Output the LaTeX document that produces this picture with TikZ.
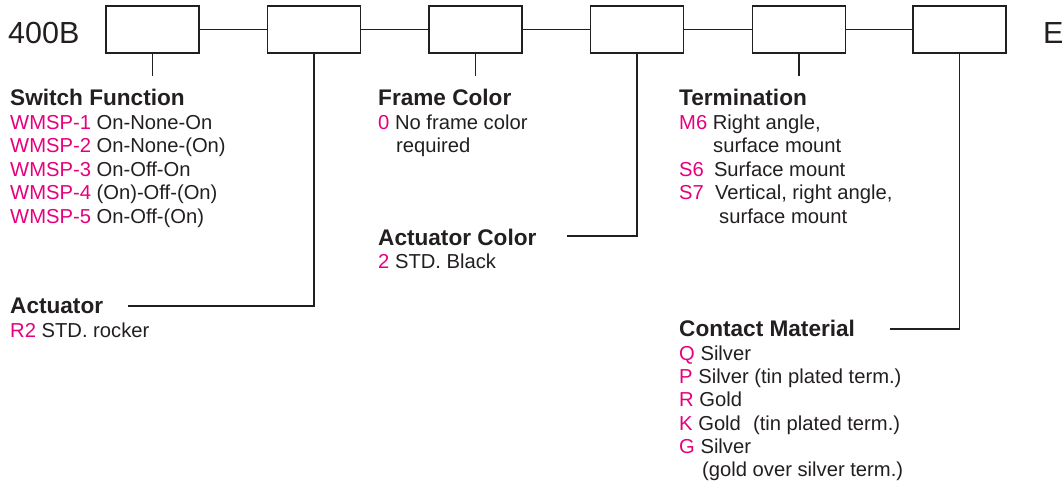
\documentclass[tikz,border=0pt]{standalone}
\usepackage{fontspec}
\setmainfont{Liberation Sans}
\definecolor{ink}{HTML}{231F20}
\definecolor{code}{HTML}{E6007E}
\begin{document}
\begin{tikzpicture}[x=1pt,y=-1pt,
  codebox/.style={draw=ink,line width=1.7pt,minimum width=93pt,minimum height=47pt,inner sep=0pt},
  wire/.style={draw=ink,line width=1.7pt},
  head/.style={anchor=base west,inner sep=0pt,text=ink,font=\fontsize{22.6}{26}\selectfont\bfseries},
  body/.style={anchor=base west,inner sep=0pt,text=ink,font=\fontsize{20.2}{24}\selectfont},
  big/.style={anchor=base west,inner sep=0pt,text=ink,font=\fontsize{30.5}{34}\selectfont}]
\useasboundingbox (0,0) rectangle (1064,486);
% boxes
\node[codebox] (b1) at (152.5,29.5) {};
\node[codebox] (b2) at (314,29.5) {};
\node[codebox] (b3) at (475.5,29.5) {};
\node[codebox] (b4) at (637,29.5) {};
\node[codebox] (b5) at (799,29.5) {};
\node[codebox] (b6) at (959.5,29.5) {};
\node[big] (pre) at (8,44) {400B};
\node[big] (suf) at (1043,44) {E};
\draw[wire] (b1.east) -- (b2.west);
\draw[wire] (b2.east) -- (b3.west);
\draw[wire] (b3.east) -- (b4.west);
\draw[wire] (b4.east) -- (b5.west);
\draw[wire] (b5.east) -- (b6.west);
% leader ends
\coordinate (s1) at (152.5,76);
\coordinate (s3) at (475.5,76);
\coordinate (s5) at (799,76);
\coordinate (c2) at (314,306);
\coordinate (e2) at (128,306);
\coordinate (c4) at (637,236);
\coordinate (e4) at (567,236);
\coordinate (c6) at (959.5,329);
\coordinate (e6) at (890,329);
\draw[wire] (b1.south) -- (s1);
\draw[wire] (b3.south) -- (s3);
\draw[wire] (b5.south) -- (s5);
\draw[wire] (b2.south) -- (c2) -- (e2);
\draw[wire] (b4.south) -- (c4) -- (e4);
\draw[wire] (b6.south) -- (c6) -- (e6);
% Switch Function
\node[head] (sfh) at (10,106) {Switch Function};
\node[body] (sf1) at (10,130) {\textcolor{code}{WMSP-1} On-None-On};
\node[body] (sf2) at (10,153) {\textcolor{code}{WMSP-2} On-None-(On)};
\node[body] (sf3) at (10,177) {\textcolor{code}{WMSP-3} On-Off-On};
\node[body] (sf4) at (10,200) {\textcolor{code}{WMSP-4} (On)-Off-(On)};
\node[body] (sf5) at (10,223) {\textcolor{code}{WMSP-5} On-Off-(On)};
% Actuator
\node[head] (ach) at (10,313) {Actuator};
\node[body] (ac1) at (10,337) {\textcolor{code}{R2} STD. rocker};
% Frame Color
\node[head] (fch) at (378,106) {Frame Color};
\node[body] (fc1) at (378,130) {\textcolor{code}{0} No frame color};
\node[body] (fc2) at (396,153) {required};
% Actuator Color
\node[head] (ach2) at (378,245) {Actuator Color};
\node[body] (acc1) at (378,268) {\textcolor{code}{2} STD. Black};
% Termination
\node[head] (tmh) at (679,106) {Termination};
\node[body] (tm1) at (679,130) {\textcolor{code}{M6} Right angle,};
\node[body] (tm2) at (713,153) {surface mount};
\node[body] (tm3) at (679,177) {\textcolor{code}{S6}\hspace{0.5em}Surface mount};
\node[body] (tm4) at (679,200) {\textcolor{code}{S7}\hspace{0.55em}Vertical, right angle,};
\node[body] (tm5) at (719,223) {surface mount};
% Contact Material
\node[head] (cmh) at (679,336) {Contact Material};
\node[body] (cm1) at (679,360) {\textcolor{code}{Q} Silver};
\node[body] (cm2) at (679,383) {\textcolor{code}{P} Silver (tin plated term.)};
\node[body] (cm3) at (679,406) {\textcolor{code}{R} Gold};
\node[body] (cm4) at (679,430) {\textcolor{code}{K} Gold\hspace{0.6em}(tin plated term.)};
\node[body] (cm5) at (679,453) {\textcolor{code}{G} Silver};
\node[body] (cm6) at (702,476) {(gold over silver term.)};
\end{tikzpicture}
\end{document}
